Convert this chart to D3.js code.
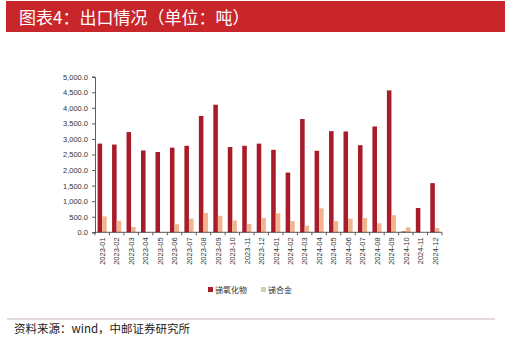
<!DOCTYPE html>
<html>
<head>
<meta charset="utf-8">
<script src="https://cdn.jsdelivr.net/npm/d3@7/dist/d3.min.js"></script>
<style>
  html, body { margin: 0; padding: 0; background: #ffffff; }
  svg { display: block; font-family: "Noto Sans CJK SC", "Noto Sans", sans-serif; }
</style>
</head>
<body>
<svg id="chart" width="515" height="347"></svg>
<script>
// Monthly export volumes, tonnes
const months = [
  "2023-01","2023-02","2023-03","2023-04","2023-05","2023-06",
  "2023-07","2023-08","2023-09","2023-10","2023-11","2023-12",
  "2024-01","2024-02","2024-03","2024-04","2024-05","2024-06",
  "2024-07","2024-08","2024-09","2024-10","2024-11","2024-12"
];
const oxideValues = [
  2850, 2820, 3220, 2630, 2580, 2720, 2780, 3740, 4100, 2740, 2780, 2850,
  2650, 1920, 3640, 2620, 3250, 3240, 2800, 3400, 4560, 25, 780, 1580
];
const alloyValues = [
  510, 370, 170, 10, 10, 260, 440, 620, 530, 380, 270, 460,
  610, 360, 210, 770, 360, 440, 460, 290, 550, 160, 0, 140
];
const seriesNames = ["锑氧化物", "锑合金"];
const yTicks = [0, 500, 1000, 1500, 2000, 2500, 3000, 3500, 4000, 4500, 5000];

const svg = d3.select("#chart");

// Header band
svg.append("rect")
  .attr("x", 6).attr("y", 1).attr("width", 499).attr("height", 31)
  .attr("fill", "#c9262c");
svg.append("text")
  .attr("x", 19).attr("y", 23.5)
  .attr("fill", "#ffffff")
  .attr("font-size", 17)
  .text("图表4：出口情况（单位：吨）");

// Plot area
const x0 = 95, x1 = 442, yTop = 76.7, yBottom = 232.3;

const x = d3.scaleBand().domain(months).range([x0, x1]).paddingInner(0.37).paddingOuter(0.18);
const xInner = d3.scaleBand().domain([0, 1]).range([0, x.bandwidth()]);
const y = d3.scaleLinear().domain([0, 5000]).range([yBottom, yTop]);

const colors = ["#a81c2a", "#f3b38f"];
const legendColors = ["#a81c2a", "#cdd3b2"];

const yAxis = d3.axisLeft(y).tickValues(yTicks).tickFormat(d3.format(",.1f")).tickSize(3).tickPadding(4);
const gy = svg.append("g").attr("transform", `translate(${x0},0)`).call(yAxis);
gy.select(".domain").attr("stroke", "#333").attr("stroke-width", 0.8);
gy.selectAll(".tick line").attr("stroke", "#333").attr("stroke-width", 0.8);
gy.selectAll(".tick text").attr("font-size", 7.5).attr("fill", "#333").attr("font-family", "Liberation Sans, Arial, sans-serif");

// Bars
const groups = svg.append("g").selectAll("g")
  .data(months)
  .join("g")
  .attr("transform", d => `translate(${x(d)},0)`);

[oxideValues, alloyValues].forEach((vals, s) => {
  groups.append("rect")
    .attr("x", xInner(s))
    .attr("width", xInner.bandwidth())
    .attr("y", (d, i) => y(vals[i]))
    .attr("height", (d, i) => yBottom - y(vals[i]))
    .attr("fill", colors[s]);
});

// X axis with ticks between categories
const gx = svg.append("g").attr("transform", `translate(0,${yBottom})`);
gx.append("line").attr("x1", x0).attr("x2", x1).attr("stroke", "#333").attr("stroke-width", 0.8);
const boundaries = d3.range(months.length + 1).map(i => x0 + (x1 - x0) * i / months.length);
gx.selectAll("line.tk").data(boundaries).join("line")
  .attr("class", "tk")
  .attr("x1", d => d).attr("x2", d => d).attr("y1", 0).attr("y2", 3)
  .attr("stroke", "#333").attr("stroke-width", 0.8);
gx.selectAll("text").data(months).join("text")
  .attr("transform", d => `translate(${x(d) + x.bandwidth() / 2 + 2.8},5) rotate(-90)`)
  .attr("text-anchor", "end")
  .attr("font-size", 7.5)
  .attr("fill", "#333")
  .attr("font-family", "Liberation Sans, Arial, sans-serif")
  .text(d => d);

// Legend
const legend = svg.append("g").attr("transform", "translate(208,290)");
const legendX = [0, 53];
seriesNames.forEach((name, i) => {
  legend.append("rect")
    .attr("x", legendX[i]).attr("y", -3).attr("width", 5).attr("height", 5)
    .attr("fill", legendColors[i]);
  legend.append("text")
    .attr("x", legendX[i] + 7).attr("y", 3)
    .attr("font-size", 8).attr("fill", "#333")
    .text(name);
});

// Footer
svg.append("line")
  .attr("x1", 7).attr("x2", 495).attr("y1", 319).attr("y2", 319)
  .attr("stroke", "#c7b5b5").attr("stroke-width", 1);
svg.append("text")
  .attr("x", 14).attr("y", 332.5)
  .attr("font-size", 11.5).attr("fill", "#222")
  .text("资料来源：wind，中邮证券研究所");
</script>
</body>
</html>
